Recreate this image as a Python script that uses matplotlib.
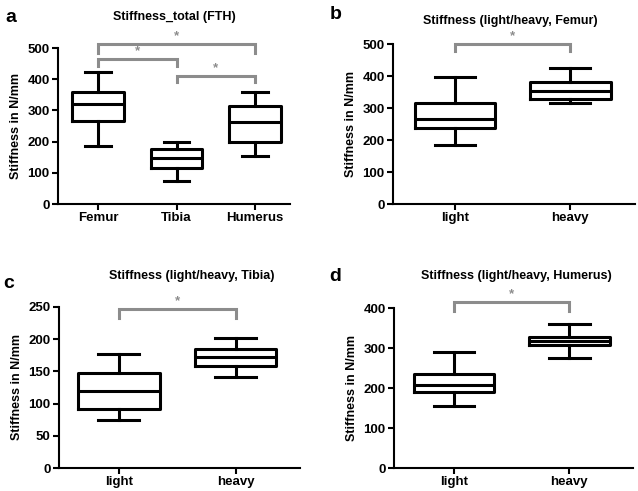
import matplotlib.pyplot as plt

plt.rcParams['font.family'] = ['Liberation Sans', 'DejaVu Sans']
plt.rcParams['font.weight'] = 'bold'

# box stats: (whisker low, Q1, median, Q3, whisker high)
total_names = ["Femur", "Tibia", "Humerus"]
total_stats = [(185, 265, 322, 360, 425),
               (75, 115, 148, 175, 200),
               (153, 200, 263, 315, 360)]

lh_names = ["light", "heavy"]
femur_stats = [(185, 238, 267, 315, 398), (315, 328, 355, 382, 425)]
tibia_stats = [(75, 92, 120, 147, 177), (141, 158, 173, 185, 202)]
humerus_stats = [(155, 190, 208, 235, 290), (275, 307, 318, 328, 360)]

# significance brackets: (from, to, top, foot)
total_sig = [(0, 2, 513, 484), (0, 1, 465, 442), (1, 2, 410, 391)]
femur_sig = [(0, 1, 502, 480)]
tibia_sig = [(0, 1, 247, 233)]
humerus_sig = [(0, 1, 415, 392)]

fig = plt.figure(figsize=(6.38, 4.91), dpi=100)


def panel(rect, names, stats, sig, ymax, ystep, xlim, width):
    ax = fig.add_axes(rect)
    bstats = []
    for n, s in zip(names, stats):
        bstats.append(dict(label=n, whislo=s[0], q1=s[1], med=s[2],
                           q3=s[3], whishi=s[4], fliers=[]))
    lw = 2.2
    ax.bxp(bstats, positions=range(len(names)), widths=width,
           capwidths=width * 0.5, showfliers=False,
           boxprops=dict(color='black', linewidth=lw),
           whiskerprops=dict(color='black', linewidth=lw),
           capprops=dict(color='black', linewidth=lw),
           medianprops=dict(color='black', linewidth=lw))
    for a, b, top, foot in sig:
        ax.plot([a, a, b, b], [foot, top, top, foot], color='#8c8c8c',
                lw=2.2, clip_on=False, solid_joinstyle='miter')
        ax.text((a + b) / 2, top + ymax * 0.01, '*', color='#8c8c8c',
                ha='center', va='bottom', fontsize=9.5)
    ax.set_ylim(0, ymax)
    ax.set_yticks(range(0, ymax + 1, ystep))
    ax.set_xlim(*xlim)
    for sp in ['top', 'right']:
        ax.spines[sp].set_visible(False)
    for sp in ['left', 'bottom']:
        ax.spines[sp].set_linewidth(1.5)
    ax.tick_params(width=1.5, length=4, pad=2, labelsize=9.5)
    ax.set_ylabel("Stiffness in N/mm", fontsize=9, fontweight='bold')
    for t in ax.get_xticklabels() + ax.get_yticklabels():
        t.set_fontweight('bold')
    return ax


axa = panel([0.091, 0.5845, 0.364, 0.3175], total_names, total_stats,
            total_sig, 500, 100, (-0.51, 2.45), 0.66)
axb = panel([0.616, 0.5845, 0.379, 0.3255], lh_names, femur_stats,
            femur_sig, 500, 100, (-0.54, 1.56), 0.7)
axc = panel([0.0925, 0.0468, 0.3775, 0.3282], lh_names, tibia_stats,
            tibia_sig, 250, 50, (-0.51, 1.55), 0.7)
axd = panel([0.6176, 0.0468, 0.3744, 0.3259], lh_names, humerus_stats,
            humerus_sig, 400, 100, (-0.52, 1.55), 0.7)

# titles and panel letters
fig.text(0.273, 0.965, "Stiffness_total (FTH)", ha='center', va='center', fontsize=9)
fig.text(0.80, 0.958, "Stiffness (light/heavy, Femur)", ha='center', va='center', fontsize=9)
fig.text(0.30, 0.438, "Stiffness (light/heavy, Tibia)", ha='center', va='center', fontsize=9)
fig.text(0.81, 0.438, "Stiffness (light/heavy, Humerus)", ha='center', va='center', fontsize=9)
fig.text(0.008, 0.965, "a", ha='left', va='center', fontsize=14)
fig.text(0.516, 0.970, "b", ha='left', va='center', fontsize=14)
fig.text(0.005, 0.422, "c", ha='left', va='center', fontsize=14)
fig.text(0.516, 0.436, "d", ha='left', va='center', fontsize=14)

fig.savefig("out.png", dpi=100)
